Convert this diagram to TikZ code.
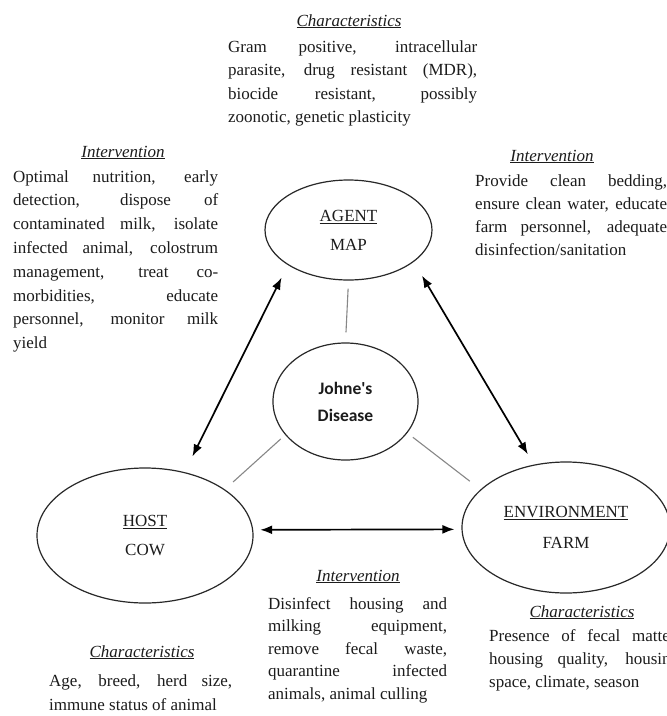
\documentclass[tikz,border=0pt]{standalone}
\usepackage{fontspec}
\setmainfont{Liberation Serif}
\newfontfamily\jdfont{Carlito}
\usetikzlibrary{shapes.geometric,arrows.meta}
\definecolor{txt}{RGB}{28,28,28}
\definecolor{conn}{RGB}{135,135,135}
\definecolor{outline}{RGB}{40,40,40}
\begin{document}
\begin{tikzpicture}[x=1pt,y=-1pt,
  bodytext/.style={font=\fontsize{17}{#1}\selectfont, text=txt, inner sep=0pt, align=justify,
    execute at begin node={\hyphenpenalty=10000\tolerance=10000\hbadness=10000}},
  bodytext/.default=23.5,
  ttl/.style={font=\fontsize{17}{20}\selectfont\itshape, text=txt, inner sep=0pt},
  oval/.style={ellipse, draw=outline, line width=1.2pt, inner sep=0pt, text=txt, align=center,
    font=\fontsize{17}{20}\selectfont},
  dbl/.style={{Latex[length=12pt,width=9pt]}-{Latex[length=12pt,width=9pt]}, line width=1.7pt, black},
  grayline/.style={conn, line width=1.1pt}]
\useasboundingbox (0,0) rectangle (667,716);
\fill[white] (0,0) rectangle (667,716);
\clip (0,0) rectangle (667,716);

% ellipses
\node[oval, minimum width=167pt, minimum height=100pt] (agent) at (348.5,230) {\underline{AGENT}\\[9pt]MAP};
\node[oval, minimum width=145pt, minimum height=117pt, font=\jdfont\bfseries\fontsize{17.5}{20}\selectfont] (jd) at (345.5,401.5) {Johne's\\[7pt]Disease};
\node[oval, minimum width=216pt, minimum height=135pt] (host) at (145,535.5) {\underline{HOST}\\[9pt]COW};
\node[oval, minimum width=208pt, minimum height=131pt] (env) at (566,527.5) {\underline{ENVIRONMENT}\\[11pt]FARM};

% connectors
\draw[dbl, shorten <=17.5pt, shorten >=14pt] (host.58) -- (agent.210);
\draw[dbl, shorten <=16pt, shorten >=12pt] (agent.-26.5) -- (env.117);
\draw[dbl, shorten <=7pt, shorten >=7pt] (host.3) -- (env.181);
\draw[grayline, shorten <=8pt, shorten >=10pt] (agent.south) -- (jd.north);
\draw[grayline, shorten <=6pt, shorten >=11pt] (jd.209) -- (host.30.7);
\draw[grayline, shorten <=7pt, shorten >=13.5pt] (jd.-27.7) -- (env.156);

% top characteristics
\node[ttl, anchor=base] (tch) at (349,26) {\underline{Characteristics}};
\node[bodytext, anchor=base west, text width=249pt] (tct) at (228,52)
  {Gram positive, intracellular\linebreak parasite, drug resistant (MDR),\linebreak biocide resistant, possibly\linebreak zoonotic, genetic plasticity};

% left intervention
\node[ttl, anchor=base] (lih) at (123,157) {\underline{Intervention}};
\node[bodytext=23.8, anchor=base west, text width=205pt] (lit) at (13,182)
  {Optimal nutrition, early\linebreak detection, dispose of\linebreak contaminated milk, isolate\linebreak infected animal, colostrum\linebreak management, treat co-\linebreak morbidities, educate\linebreak personnel, monitor milk\linebreak yield};

% right intervention
\node[ttl, anchor=base] (rih) at (552,161) {\underline{Intervention}};
\node[bodytext=23, anchor=base west, text width=192pt] (rit) at (475,186)
  {Provide clean bedding,\linebreak ensure clean water, educate\linebreak farm personnel, adequate\linebreak disinfection/sanitation};

% centre intervention
\node[ttl, anchor=base] (cih) at (358,581) {\underline{Intervention}};
\node[bodytext=22.5, anchor=base west, text width=179pt] (cit) at (268,609)
  {Disinfect housing and\linebreak milking equipment,\linebreak remove fecal waste,\linebreak quarantine infected\linebreak animals, animal culling};

% host characteristics
\node[ttl, anchor=base] (hch) at (142,657) {\underline{Characteristics}};
\node[bodytext=24, anchor=base west, text width=183pt] (hct) at (49,686)
  {Age, breed, herd size,\linebreak immune status of animal};

% environment characteristics
\node[ttl, anchor=base] (ech) at (582,617) {\underline{Characteristics}};
\node[bodytext=23, anchor=base west, text width=190pt] (ect) at (489,641)
  {Presence of fecal matter,\linebreak housing quality, housing\linebreak space, climate, season};
\end{tikzpicture}
\end{document}
